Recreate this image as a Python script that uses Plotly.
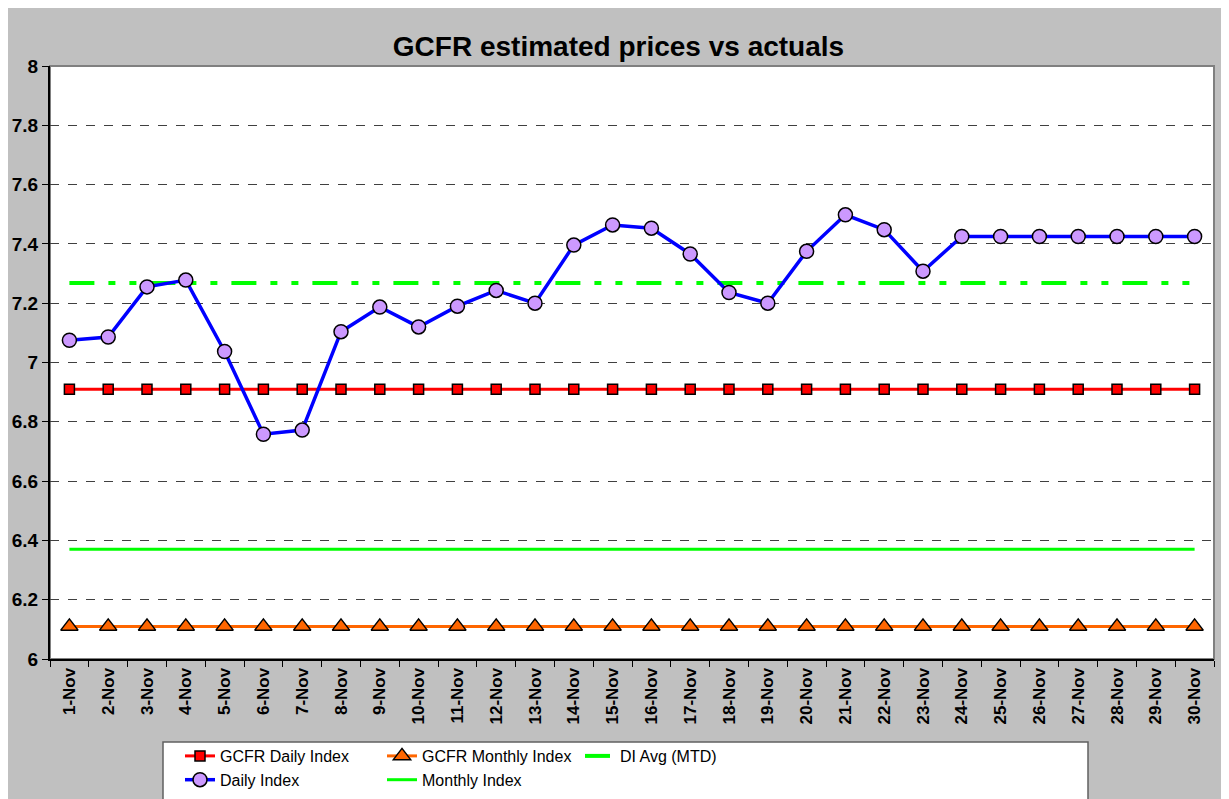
import plotly.graph_objects as go

days = [f"{d}-Nov" for d in range(1, 31)]

daily_index = [7.075, 7.086, 7.255, 7.278, 7.037, 6.758, 6.772, 7.104, 7.187, 7.120,
               7.190, 7.243, 7.200, 7.396, 7.464, 7.453, 7.366, 7.236, 7.200, 7.375,
               7.498, 7.448, 7.308, 7.425, 7.425, 7.425, 7.425, 7.425, 7.425, 7.425]

gcfr_daily = [6.91, 6.91, 6.91, 6.91, 6.91, 6.91, 6.91, 6.91, 6.91, 6.91,
              6.91, 6.91, 6.91, 6.91, 6.91, 6.91, 6.91, 6.91, 6.91, 6.91,
              6.91, 6.91, 6.91, 6.91, 6.91, 6.91, 6.91, 6.91, 6.91, 6.91]

gcfr_monthly = [6.11, 6.11, 6.11, 6.11, 6.11, 6.11, 6.11, 6.11, 6.11, 6.11,
                6.11, 6.11, 6.11, 6.11, 6.11, 6.11, 6.11, 6.11, 6.11, 6.11,
                6.11, 6.11, 6.11, 6.11, 6.11, 6.11, 6.11, 6.11, 6.11, 6.11]

di_avg = [7.268, 7.268, 7.268, 7.268, 7.268, 7.268, 7.268, 7.268, 7.268, 7.268,
          7.268, 7.268, 7.268, 7.268, 7.268, 7.268, 7.268, 7.268, 7.268, 7.268,
          7.268, 7.268, 7.268, 7.268, 7.268, 7.268, 7.268, 7.268, 7.268, 7.268]

monthly_index = [6.37, 6.37, 6.37, 6.37, 6.37, 6.37, 6.37, 6.37, 6.37, 6.37,
                 6.37, 6.37, 6.37, 6.37, 6.37, 6.37, 6.37, 6.37, 6.37, 6.37,
                 6.37, 6.37, 6.37, 6.37, 6.37, 6.37, 6.37, 6.37, 6.37, 6.37]

y_ticks = [6, 6.2, 6.4, 6.6, 6.8, 7, 7.2, 7.4, 7.6, 7.8, 8]

FONT = "Liberation Sans, Arial"
LEG_FONT = dict(family=FONT, size=16, color="black")

fig = go.Figure()

fig.add_trace(go.Scatter(
    x=days, y=gcfr_monthly, mode="lines+markers", name="GCFR Monthly Index",
    line=dict(color="#FF6600", width=3),
    marker=dict(symbol="triangle-up", size=15, color="#FF6600", line=dict(color="black", width=1.5)),
    legend="legend2", legendgroup="g2"))
fig.add_trace(go.Scatter(
    x=days, y=monthly_index, mode="lines", name="Monthly Index",
    line=dict(color="#00FF00", width=3), legend="legend2", legendgroup="g4"))
fig.add_trace(go.Scatter(
    x=days, y=gcfr_daily, mode="lines+markers", name="GCFR Daily Index",
    line=dict(color="#FF0000", width=3),
    marker=dict(symbol="square", size=10, color="#FF0000", line=dict(color="black", width=1.5)),
    legend="legend", legendgroup="g1"))
fig.add_trace(go.Scatter(
    x=days, y=di_avg, mode="lines", name="DI Avg (MTD)",
    line=dict(color="#00FF00", width=4, dash="25px,14px,7px,14px,7px,14px"),
    legend="legend3", legendgroup="g5"))
fig.add_trace(go.Scatter(
    x=days, y=daily_index, mode="lines+markers", name="Daily Index",
    line=dict(color="#0000FF", width=3.5),
    marker=dict(symbol="circle", size=14, color="#CC99FF", line=dict(color="black", width=1.5)),
    legend="legend", legendgroup="g3"))

# figure size and margins; the page puts the figure 8px in from the top-left
OFF = 8
W, H = 1221, 791
L, R, T, B = 42, 15, 58, 140
pw, ph = W - L - R, H - T - B


def px_x(p):
    return (p - OFF - L) / pw


def px_y(p):
    return (H - B - (p - OFF)) / ph


leg_common = dict(bgcolor="rgba(0,0,0,0)", font=LEG_FONT, xanchor="left", yanchor="top",
                  orientation="v", traceorder="normal", tracegroupgap=3)

tick_font = dict(family=FONT, size=17, color="black", weight="bold")

fig.update_layout(
    width=W, height=H,
    margin=dict(l=L, r=R, t=T, b=B, autoexpand=False),
    paper_bgcolor="#C0C0C0",
    plot_bgcolor="white",
    title=dict(text="<b>GCFR estimated prices vs actuals</b>", x=0.5, xref="container", xanchor="center",
               y=1 - (46 - OFF) / H, yanchor="middle",
               font=dict(family=FONT, size=28, color="black")),
    xaxis=dict(type="category", range=[-0.5, 29.5], showgrid=False, showline=True,
               linecolor="black", linewidth=2,
               ticks="outside", tickson="boundaries", ticklen=6, tickcolor="black",
               tickangle=-90, tickfont=tick_font, fixedrange=True),
    yaxis=dict(range=[6, 8], tickvals=y_ticks, ticktext=[f"{v:g}" for v in y_ticks],
               showgrid=True, gridcolor="#404040", gridwidth=1, griddash="dash",
               showline=True, linecolor="black", linewidth=2, ticks="outside", ticklen=6,
               tickcolor="black", zeroline=False,
               tickfont=dict(family=FONT, size=19, color="black", weight="bold")),
    legend=dict(x=px_x(180), y=px_y(739), **leg_common),
    legend2=dict(x=px_x(382), y=px_y(739), **leg_common),
    legend3=dict(x=px_x(580), y=px_y(739), **leg_common),
    shapes=[
        # plot-area frame
        dict(type="rect", xref="paper", yref="paper", x0=0, x1=1, y0=0, y1=1,
             line=dict(color="#808080", width=2), layer="below"),
        # legend box
        dict(type="rect", xref="paper", yref="paper", x0=px_x(163), x1=px_x(1088), y0=px_y(742), y1=px_y(812),
             fillcolor="white", line=dict(color="#606060", width=1.5), layer="below"),
    ],
)

fig.write_html("out.html")
